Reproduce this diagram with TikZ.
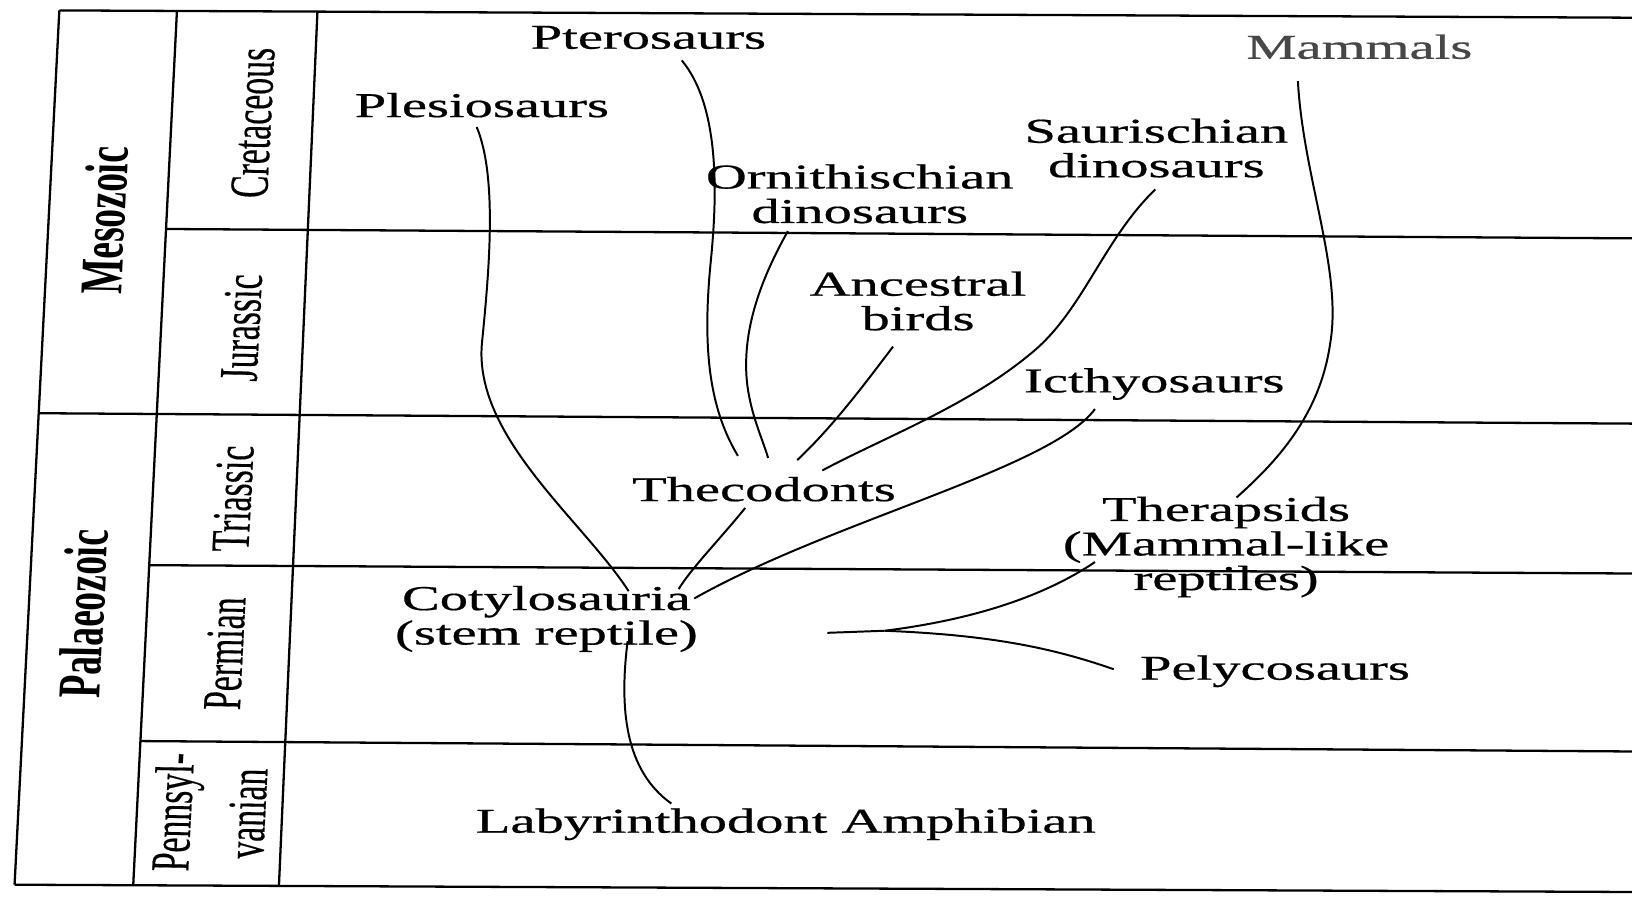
\documentclass[tikz,border=0pt]{standalone}
\usepackage{graphicx}
\usepackage{fontspec}
\setmainfont{Liberation Serif}
\newfontfamily\taxafont{Liberation Serif}[FakeBold=0.5]
\newfontfamily\sidefont{Liberation Serif}[FakeBold=0.4]
\newcommand{\hstretch}[1]{\scalebox{1.62}[1]{#1}}
\newcommand{\twolines}[2]{\begin{tabular}{@{}c@{}}#1\\#2\end{tabular}}
\newcommand{\threelines}[3]{\begin{tabular}{@{}c@{}}#1\\#2\\#3\end{tabular}}
\begin{document}
\begin{tikzpicture}[x=1pt,y=-1pt,
  rule/.style={line width=2.2pt},
  branch/.style={line width=1.9pt},
  lbl/.style={inner sep=0pt, font=\taxafont\fontsize{33.5}{33}\selectfont},
  side/.style={inner sep=0pt, font=\sidefont\fontsize{32.5}{44}\selectfont},
  eralbl/.style={inner sep=0pt, font=\fontsize{36}{40}\selectfont\bfseries}]
\useasboundingbox (0,0) rectangle (1568,868);
% table
\draw[rule] (57,10) -- (1568,17);
\draw[rule] (57,10) -- (14,850);
\draw[rule] (14,850) -- (1568,857);
\draw[rule] (170,10.5) -- (128,850.5);
\draw[rule] (305,11) -- (268,851);
\draw[rule] (159,220) -- (1568,229);
\draw[rule] (37,397) -- (1568,407);
\draw[rule] (143,543) -- (1568,551);
\draw[rule] (135,712) -- (1568,722);
% era / period labels
\node[eralbl] (meso) at (100,212) {\hstretch{\rotatebox{88.2}{Mesozoic}}};
\node[eralbl] (palaeo) at (80,590) {\hstretch{\rotatebox{88.2}{Palaeozoic}}};
\node[side] (cret) at (243,118) {\hstretch{\rotatebox{88.2}{Cretaceous}}};
\node[side] (jur) at (232,315) {\hstretch{\rotatebox{88.2}{Jurassic}}};
\node[side] (tri) at (224,479) {\hstretch{\rotatebox{88.2}{Triassic}}};
\node[side] (perm) at (216,628) {\hstretch{\rotatebox{88.2}{Permian}}};
\node[side] (penn) at (205,781) {\hstretch{\rotatebox{88.2}{\twolines{Pennsyl-}{vanian}}}};
% taxa
\node[lbl] (ptero) at (623,36) {\hstretch{Pterosaurs}};
\node[lbl] (plesio) at (463,101) {\hstretch{Plesiosaurs}};
\node[lbl, text=black!72] (mamm) at (1306,45) {\hstretch{Mammals}};
\node[lbl] (saur) at (1111,147) {\hstretch{\twolines{Saurischian}{dinosaurs}}};
\node[lbl] (ornith) at (826,191) {\hstretch{\twolines{Ornithischian}{dinosaurs}}};
\node[lbl] (birds) at (882,294) {\hstretch{\twolines{Ancestral}{birds}}};
\node[lbl] (icth) at (1109,369) {\hstretch{Icthyosaurs}};
\node[lbl] (thec) at (734,470) {\hstretch{Thecodonts}};
\node[lbl] (ther) at (1178,527) {\hstretch{\threelines{Therapsids}{(Mammal-like}{reptiles)}}};
\node[lbl] (coty) at (525,596) {\hstretch{\twolines{Cotylosauria}{(stem reptile)}}};
\node[lbl] (pely) at (1225,645) {\hstretch{Pelycosaurs}};
\node[lbl] (laby) at (755,792) {\hstretch{Labyrinthodont Amphibian}};
% connector ends
\coordinate (plesio-e) at (458,122);
\coordinate (ptero-e) at (655,58);
\coordinate (ornith-e) at (757,222);
\coordinate (birds-e) at (858,333);
\coordinate (saur-e) at (1110,182);
\coordinate (icth-e) at (1052,393);
\coordinate (mamm-e) at (1247,78);
\coordinate (ther-e) at (1052,540);
\coordinate (pely-e) at (1070,643);
\coordinate (thec-top1) at (709,438);
\coordinate (thec-top2) at (738,440);
\coordinate (thec-top3) at (766,442);
\coordinate (thec-top4) at (790,452);
\coordinate (thec-bot) at (716,488);
\coordinate (coty-top1) at (604,568);
\coordinate (coty-top2) at (652,566);
\coordinate (coty-top3) at (667,575);
\coordinate (coty-bot) at (603,616);
\coordinate (laby-top) at (645,772);
\coordinate (ther-bot) at (1188,478);
\coordinate (fork) at (850,606);
\coordinate (stub) at (795,608);
% connectors
\draw[branch] (plesio-e) .. controls (478,170) and (470,260) .. (463,330) .. controls (455,420) and (560,500) .. (coty-top1);
\draw[branch] (ptero-e) .. controls (690,100) and (690,180) .. (683,250) .. controls (675,330) and (680,390) .. (thec-top1);
\draw[branch] (ornith-e) .. controls (730,270) and (712,320) .. (718,370) .. controls (722,400) and (732,420) .. (thec-top2);
\draw[branch] (birds-e) .. controls (830,370) and (800,410) .. (thec-top3);
\draw[branch] (saur-e) .. controls (1060,230) and (1040,300) .. (990,340) .. controls (930,390) and (850,420) .. (thec-top4);
\draw[branch] (icth-e) .. controls (1010,450) and (800,500) .. (coty-top3);
\draw[branch] (thec-bot) .. controls (690,520) and (665,545) .. (coty-top2);
\draw[branch] (mamm-e) .. controls (1252,170) and (1290,260) .. (1278,330) .. controls (1268,400) and (1225,445) .. (ther-bot);
\draw[branch] (stub) -- (fork);
\draw[branch] (fork) .. controls (930,596) and (1000,575) .. (ther-e);
\draw[branch] (fork) .. controls (950,610) and (1010,622) .. (pely-e);
\draw[branch] (coty-bot) .. controls (595,680) and (600,740) .. (laby-top);
\end{tikzpicture}
\end{document}
